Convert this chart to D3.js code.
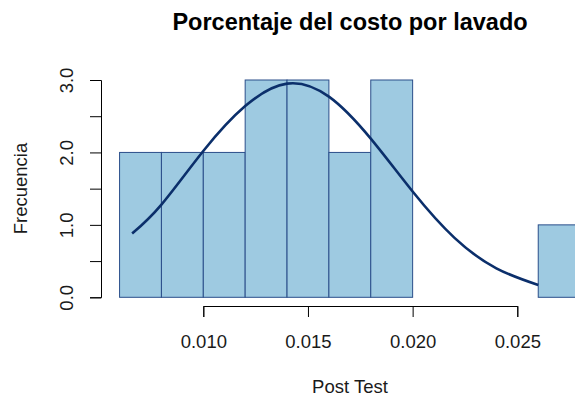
<!DOCTYPE html>
<html>
<head>
<meta charset="utf-8">
<script src="https://cdn.jsdelivr.net/npm/d3@7"></script>
<style>
  html, body { margin: 0; padding: 0; background: #ffffff; }
  svg { display: block; font-family: "Liberation Sans", Arial, sans-serif; }
</style>
</head>
<body>
<svg id="chart" width="575" height="398"></svg>
<script>
// Histogram bins (left edge, right edge) and counts
const binStarts = [0.006, 0.008, 0.010, 0.012, 0.014, 0.016, 0.018, 0.020, 0.022, 0.024, 0.026];
const binEnds   = [0.008, 0.010, 0.012, 0.014, 0.016, 0.018, 0.020, 0.022, 0.024, 0.026, 0.028];
const counts    = [2, 2, 2, 3, 3, 2, 3, 0, 0, 0, 1];

// Fitted density curve (scaled to counts)
const curveX = [0.0066, 0.008, 0.010, 0.012, 0.014, 0.016, 0.018, 0.020, 0.022, 0.024, 0.026];
const curveY = [0.88, 1.28, 2.02, 2.64, 2.95, 2.77, 2.19, 1.46, 0.82, 0.40, 0.17];

// Axis ticks
const xTicks = [0.010, 0.015, 0.020, 0.025];
const yTicks = [0, 0.5, 1, 1.5, 2, 2.5, 3];
const yLabels = ["0.0", "", "1.0", "", "2.0", "", "3.0"];

const titleText = "Porcentaje del costo por lavado";
const xTitle = "Post Test";
const yTitle = "Frecuencia";

const svg = d3.select("#chart");

const x = d3.scaleLinear().domain([0.010, 0.025]).range([203.3, 517.3]);
const y = d3.scaleLinear().domain([0, 3]).range([297.3, 80]);

// Bars
const bars = binStarts.map((b, i) => ({ x0: b, x1: binEnds[i], n: counts[i] }));
svg.append("g")
  .selectAll("rect")
  .data(bars.filter(d => d.n > 0))
  .join("rect")
  .attr("x", d => x(d.x0))
  .attr("y", d => y(d.n))
  .attr("width", d => x(d.x1) - x(d.x0))
  .attr("height", d => y(0) - y(d.n))
  .attr("fill", "#9ecae1")
  .attr("stroke", "#2a4e8a")
  .attr("stroke-width", 1);

// Density curve
const pts = curveX.map((v, i) => [v, curveY[i]]);
svg.append("path")
  .datum(pts)
  .attr("fill", "none")
  .attr("stroke", "#0b2f6b")
  .attr("stroke-width", 2.6)
  .attr("d", d3.line().x(d => x(d[0])).y(d => y(d[1])).curve(d3.curveNatural));

// X axis
const xAxis = svg.append("g")
  .attr("transform", "translate(0,306)")
  .call(d3.axisBottom(x).tickValues(xTicks).tickFormat(d3.format(".3f")).tickSizeOuter(0).tickSize(11).tickPadding(18));
xAxis.select(".domain").attr("stroke", "#000");
xAxis.selectAll(".tick line").attr("stroke", "#000");
xAxis.selectAll("text")
  .attr("font-size", 18.5)
  .attr("fill", "#1a1a1a")
  .attr("font-family", "Liberation Sans, Arial, sans-serif");

// Y axis
const yAxis = svg.append("g")
  .attr("transform", "translate(101,0)")
  .call(d3.axisLeft(y).tickValues(yTicks).tickFormat((d, i) => yLabels[i]).tickSizeOuter(0).tickSize(11));
yAxis.select(".domain").attr("stroke", "#000");
yAxis.selectAll(".tick line").attr("stroke", "#000");
yAxis.selectAll("text")
  .attr("font-size", 18.5)
  .attr("fill", "#1a1a1a")
  .attr("font-family", "Liberation Sans, Arial, sans-serif")
  .attr("x", null).attr("dy", null)
  .attr("text-anchor", "middle")
  .attr("transform", "translate(-28,0) rotate(-90)");

// Titles
svg.append("text")
  .attr("x", 350).attr("y", 30)
  .attr("text-anchor", "middle")
  .attr("font-size", 23.5)
  .attr("font-weight", "bold")
  .attr("fill", "#000")
  .text(titleText);

svg.append("text")
  .attr("x", 350).attr("y", 393)
  .attr("text-anchor", "middle")
  .attr("font-size", 18.5)
  .attr("fill", "#1a1a1a")
  .text(xTitle);

svg.append("text")
  .attr("transform", "translate(27,188.5) rotate(-90)")
  .attr("text-anchor", "middle")
  .attr("font-size", 18.5)
  .attr("fill", "#1a1a1a")
  .text(yTitle);
</script>
</body>
</html>
